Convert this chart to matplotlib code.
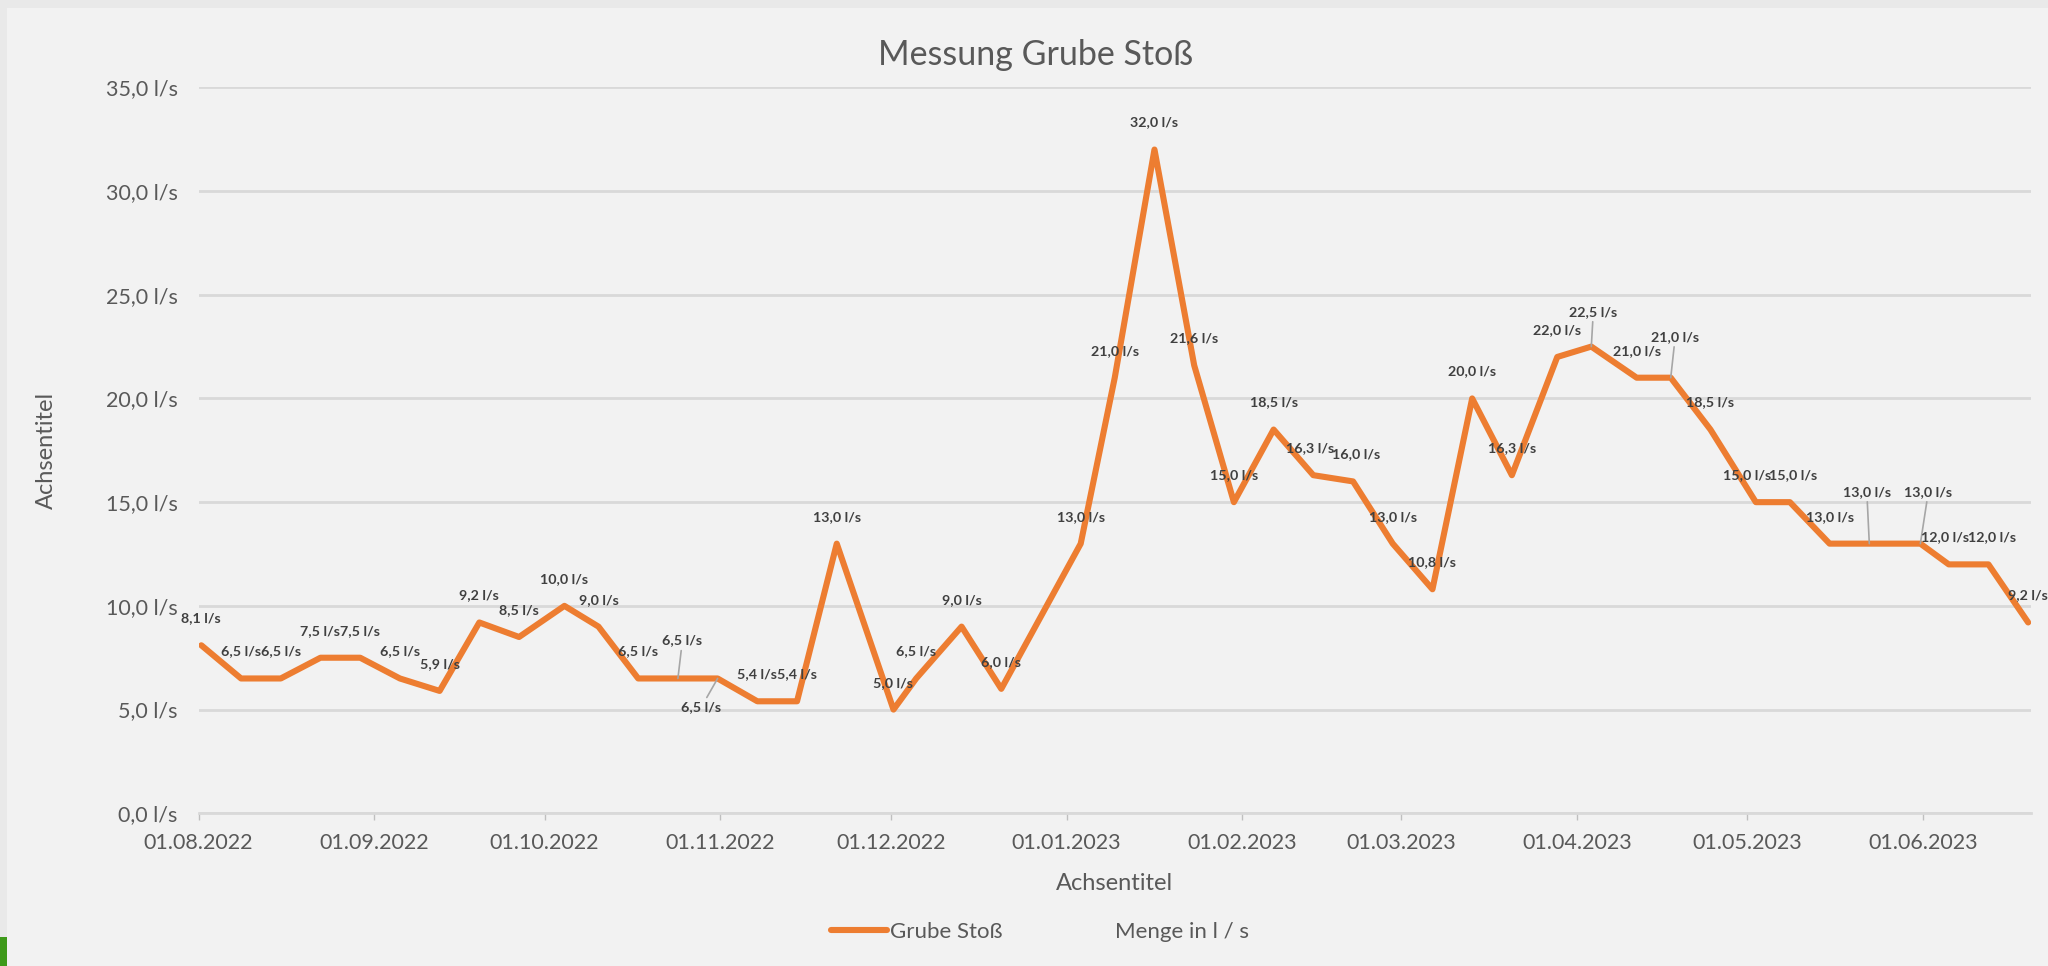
import matplotlib
matplotlib.use("Agg")
import matplotlib.pyplot as plt
import matplotlib.dates as mdates
from matplotlib.lines import Line2D
from matplotlib.patches import Rectangle
import pandas as pd
import numpy as np

# ---------------- data ----------------
dates = ["2022-08-01", "2022-08-08", "2022-08-15", "2022-08-22", "2022-08-29",
         "2022-09-05", "2022-09-12", "2022-09-19", "2022-09-26", "2022-10-04",
         "2022-10-10", "2022-10-17", "2022-10-24", "2022-10-31", "2022-11-07",
         "2022-11-14", "2022-11-21", "2022-12-01", "2022-12-05", "2022-12-13",
         "2022-12-20", "2023-01-03", "2023-01-09", "2023-01-16", "2023-01-23",
         "2023-01-30", "2023-02-06", "2023-02-13", "2023-02-20", "2023-02-27",
         "2023-03-06", "2023-03-13", "2023-03-20", "2023-03-28", "2023-04-03",
         "2023-04-11", "2023-04-17", "2023-04-24", "2023-05-02", "2023-05-08",
         "2023-05-15", "2023-05-22", "2023-05-31", "2023-06-05", "2023-06-12",
         "2023-06-19"]
values = [8.1, 6.5, 6.5, 7.5, 7.5, 6.5, 5.9, 9.2, 8.5, 10.0,
          9.0, 6.5, 6.5, 6.5, 5.4, 5.4, 13.0, 5.0, 6.5, 9.0,
          6.0, 13.0, 21.0, 32.0, 21.6, 15.0, 18.5, 16.3, 16.0, 13.0,
          10.8, 20.0, 16.3, 22.0, 22.5, 21.0, 21.0, 18.5, 15.0, 15.0,
          13.0, 13.0, 13.0, 12.0, 12.0, 9.2]
series_name = "Grube Stoß"
second_legend = "Menge in l / s"
title = "Messung Grube Stoß"
x_title = "Achsentitel"
y_title = "Achsentitel"
y_ticks = [0, 5, 10, 15, 20, 25, 30, 35]
month_ticks = ["2022-08-01", "2022-09-01", "2022-10-01", "2022-11-01", "2022-12-01",
               "2023-01-01", "2023-02-01", "2023-03-01", "2023-04-01", "2023-05-01",
               "2023-06-01"]

# label offsets in pixels (dx, dy; negative dy = up), special ones with leader lines
default_off = (0, -27)
special_off = {12: (4.5, -38), 13: (-16.5, 29), 34: (2, -35), 36: (4.5, -41),
               38: (-9, -27), 39: (3, -27), 41: (-2.5, -52), 42: (8, -52),
               43: (-4, -27), 44: (4, -27), 27: (-3, -27), 28: (3, -27)}
leader_idx = {12, 13, 34, 36, 41, 42}

# ---------------- style ----------------
FONT = ["Lato", "DejaVu Sans"]
plt.rcParams['font.family'] = FONT
ORANGE = "#ED7D31"
TXT = "#595959"
LBL = "#404040"
GRID = "#D9D9D9"
BG = "#F2F2F2"

W, H = 2048, 966
fig = plt.figure(figsize=(W / 100, H / 100), dpi=100)
fig.patch.set_facecolor("#E9E9E9")
fig.add_artist(Rectangle((7 / W, 0), 1 - 7 / W, 1 - 8 / H, transform=fig.transFigure,
                         facecolor=BG, edgecolor="none", zorder=0))
fig.add_artist(Rectangle((0, 0), 7 / W, 29 / H, transform=fig.transFigure,
                         facecolor="#3E9A1A", edgecolor="none", zorder=0))

left, right, top, bottom = 198.5, 2031, 87.3, 813.3
ax = fig.add_axes([left / W, 1 - bottom / H, (right - left) / W, (bottom - top) / H])
ax.set_facecolor(BG)
ax.patch.set_alpha(0)

x = pd.to_datetime(dates) + pd.Timedelta(hours=12)
ax.plot(x, values, color=ORANGE, lw=4.4, solid_joinstyle="round",
        solid_capstyle="round", zorder=3)

ax.set_xlim(pd.Timestamp("2022-08-01"), pd.Timestamp("2023-06-20"))
ax.set_ylim(0, 35)

ax.set_yticks(y_ticks)
ax.set_yticklabels([f"{v:.1f} l/s".replace(".", ",") for v in y_ticks])
ax.set_xticks(pd.to_datetime(month_ticks))
ax.xaxis.set_major_formatter(mdates.DateFormatter("%d.%m.%Y"))

ax.grid(axis="y", color=GRID, lw=2.0, zorder=1)
ax.set_axisbelow(True)
for s in ["top", "right", "left"]:
    ax.spines[s].set_visible(False)
ax.spines["bottom"].set_color(GRID)
ax.spines["bottom"].set_linewidth(2.0)

ax.tick_params(axis="y", length=0, pad=15, labelsize=15.5, labelcolor=TXT)
ax.tick_params(axis="x", length=5, width=1, color="#BFBFBF", direction="out",
               pad=9, labelsize=15.5, labelcolor=TXT)

# data labels
for i, (xi, v) in enumerate(zip(x, values)):
    dx, dy = special_off.get(i, default_off)
    txt = f"{v:.1f} l/s".replace(".", ",")
    kw = {}
    if i in leader_idx:
        kw["arrowprops"] = dict(arrowstyle="-", color="#A6A6A6", lw=1.2,
                                shrinkA=1, shrinkB=0)
    ax.annotate(txt, (xi, v), xytext=(dx * 0.72, -dy * 0.72), textcoords="offset points",
                ha="center", va="center", fontsize=10.3, fontweight="bold", color=LBL,
                annotation_clip=False, zorder=5, **kw)

# titles
fig.text(1036 / W, 1 - 55 / H, title, ha="center", va="center", fontsize=24.5, color=TXT)
fig.text(1114 / W, 1 - 884 / H, x_title, ha="center", va="center", fontsize=17, color=TXT)
fig.text(46 / W, 1 - 450 / H, y_title, ha="center", va="center", fontsize=17,
         color=TXT, rotation=90)

# legend
handles = [Line2D([], [], color=ORANGE, lw=4.4, solid_capstyle="round"),
           Line2D([], [], color="none", lw=0)]
leg = fig.legend(handles, [series_name, second_legend], loc="center",
                 bbox_to_anchor=(1040 / W, 1 - 932 / H), ncol=2, frameon=False,
                 fontsize=16, handlelength=2.5, handletextpad=0.15, columnspacing=2.4,
                 labelcolor=TXT)

fig.savefig("out.png", dpi=100, facecolor=fig.get_facecolor())
